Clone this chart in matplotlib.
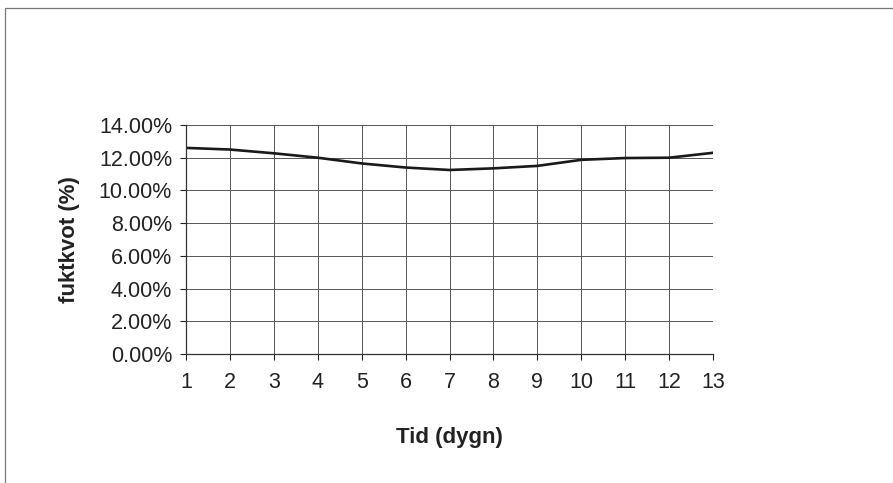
import matplotlib.pyplot as plt
from matplotlib.ticker import FuncFormatter
from matplotlib.patches import Rectangle

plt.rcParams['font.family'] = ['Liberation Sans', 'DejaVu Sans']

dygn = [1, 2, 3, 4, 5, 6, 7, 8, 9, 10, 11, 12, 13]
fuktkvot = [12.6, 12.5, 12.27, 12.0, 11.65, 11.4, 11.25, 11.35, 11.5, 11.87, 11.98, 12.0, 12.3]

fig = plt.figure(figsize=(8.93, 4.83), dpi=100)
ax = fig.add_axes([186/893, 1 - 354/483, (713 - 186)/893, (354 - 125)/483])

# ram runt hela diagrammet
fig.patches.append(Rectangle((5/893, -0.1), 1.2, 1 - 8/483 + 0.1, transform=fig.transFigure,
                             fill=False, edgecolor='#777777', linewidth=0.9))

ax.plot(dygn, fuktkvot, color='#1a1a1a', linewidth=1.9)

ax.set_xlim(1, 13)
ax.set_ylim(0, 14)
ax.set_xticks(dygn)
ax.set_yticks(range(0, 15, 2))
ax.yaxis.set_major_formatter(FuncFormatter(lambda v, p: '%.2f%%' % v))
ax.grid(True, color='#555555', linewidth=0.7)
ax.set_axisbelow(True)

for s in ['top', 'right']:
    ax.spines[s].set_visible(False)
for s in ['left', 'bottom']:
    ax.spines[s].set_color('#333333')
    ax.spines[s].set_linewidth(0.9)

ax.tick_params(axis='both', labelsize=15.5, colors='#222222', length=4, width=0.8)
ax.tick_params(axis='x', pad=9)
ax.tick_params(axis='y', pad=6)

# axeltitlar
fig.text(449/893, 1 - 438/483, 'Tid (dygn)', fontsize=16, fontweight='bold',
         color='#222222', ha='center', va='center')
fig.text(70/893, 1 - 240/483, 'fuktkvot (%)', fontsize=16, fontweight='bold',
         color='#222222', ha='center', va='center', rotation=90)

fig.savefig('out.png', dpi=100)
